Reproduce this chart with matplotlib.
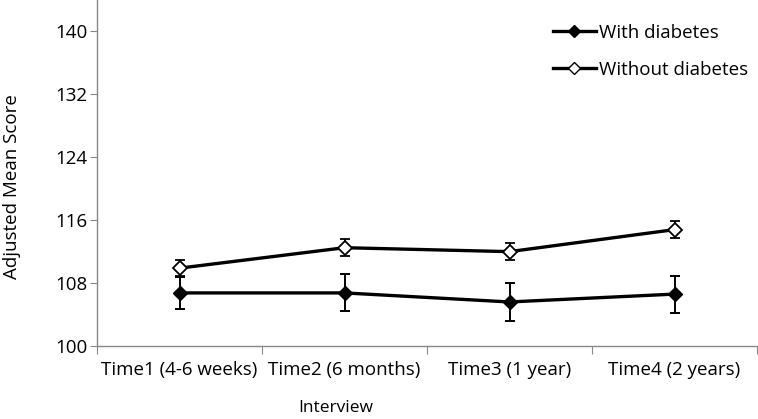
"""adjusted mean score over interviews, with and without diabetes"""

import numpy as np
import matplotlib
matplotlib.use('Agg')
import matplotlib.pyplot as plt
from matplotlib.lines import Line2D

plt.rcParams['font.family'] = ['Open Sans', 'DejaVu Sans']

categories = ['Time1 (4-6 weeks)', 'Time2 (6 months)', 'Time3 (1 year)', 'Time4 (2 years)']
with_diabetes = [106.75, 106.75, 105.6, 106.6]
with_err = [2.0, 2.35, 2.4, 2.35]
without_diabetes = [109.9, 112.5, 112.0, 114.8]
without_err = [1.0, 1.1, 1.1, 1.1]
yticks = [100, 108, 116, 124, 132, 140]

fig = plt.figure(figsize=(7.58, 4.19), dpi=100)
ax = fig.add_axes([97/758, 73/419, 660/758, 346/419])

x = np.arange(len(categories))
ax.errorbar(x, with_diabetes, yerr=with_err, color='black', lw=2.4,
            marker='D', ms=7.5, mfc='black', mec='black',
            ecolor='black', elinewidth=1.4, capsize=3.5, capthick=1.4)
ax.errorbar(x, without_diabetes, yerr=without_err, color='black', lw=2.4,
            marker='D', ms=7.5, mfc='white', mec='black', mew=1.3,
            ecolor='black', elinewidth=1.4, capsize=3.5, capthick=1.4)

ax.set_xlim(-0.5, len(categories) - 0.5)
ax.set_ylim(100, 144)
ax.set_yticks(yticks)
ax.set_xticks(np.arange(len(categories) + 1) - 0.5)
ax.set_xticklabels([])
ax.set_xticks(x, minor=True)
ax.set_xticklabels(categories, minor=True)

for s in ['top', 'right']:
    ax.spines[s].set_visible(False)
for s in ['left', 'bottom']:
    ax.spines[s].set_color('#888888')
    ax.spines[s].set_linewidth(1.0)

ax.tick_params(axis='x', which='major', direction='out', length=6, color='#888888')
ax.tick_params(axis='x', which='minor', length=0, pad=11, labelsize=13.5)
ax.tick_params(axis='y', direction='out', length=5, color='#888888', pad=2, labelsize=13.5)

fig.text(336/758, 1 - 408/419, 'Interview', ha='center', va='center', fontsize=12.5)
fig.text(12/758, 1 - 187/419, 'Adjusted Mean Score', ha='center', va='center',
         rotation=90, fontsize=13.5)

handles = [
    Line2D([], [], color='black', lw=2.4, marker='D', ms=6, mfc='black', mec='black'),
    Line2D([], [], color='black', lw=2.4, marker='D', ms=6, mfc='white', mec='black'),
]
ax.legend(handles, ['With diabetes', 'Without diabetes'],
          loc='upper left', bbox_to_anchor=(536/758, 1 - 7/419),
          bbox_transform=fig.transFigure, frameon=False, fontsize=13.5,
          handlelength=2.3, handletextpad=0.15, labelspacing=1.0)

fig.savefig('out.png', dpi=100)
